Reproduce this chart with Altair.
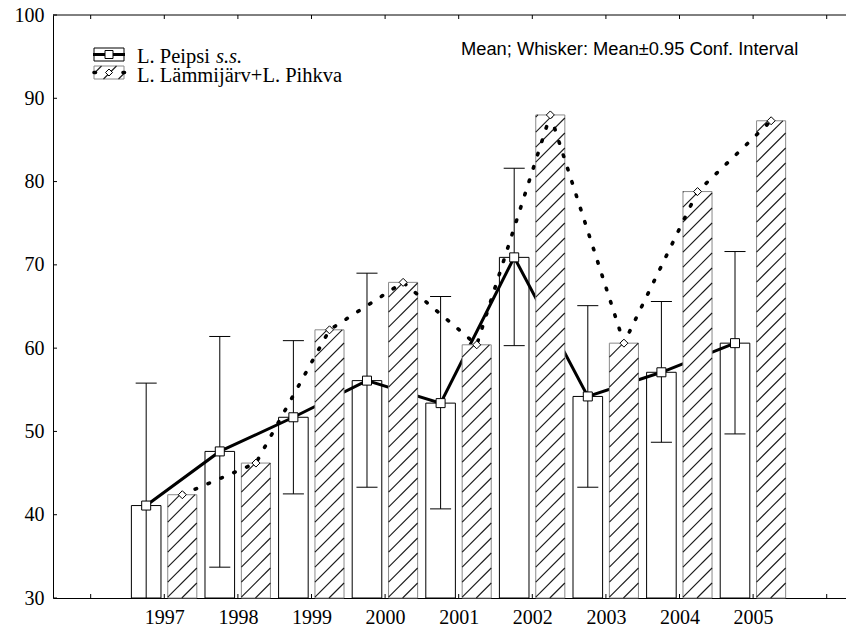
import altair as alt
import pandas as pd

# ---------------- data ----------------
years = [1997, 1998, 1999, 2000, 2001, 2002, 2003, 2004, 2005]
peipsi_mean = [41.1, 47.6, 51.7, 56.1, 53.4, 70.9, 54.2, 57.1, 60.6]
peipsi_hi = [55.8, 61.4, 60.9, 69.0, 66.2, 81.6, 65.1, 65.6, 71.6]
peipsi_lo = [26.4, 33.7, 42.5, 43.3, 40.7, 60.3, 43.3, 48.7, 49.7]
lp_mean = [42.4, 46.2, 62.2, 67.9, 60.4, 88.0, 60.6, 78.8, 87.3]

y_ticks = [30, 40, 50, 60, 70, 80, 90, 100]
x_ticks = [1996, 1997, 1998, 1999, 2000, 2001, 2002, 2003, 2004, 2005, 2006]
legend_text_1 = "L. Peipsi "
legend_text_1b = "s.s."
legend_text_2 = "L. Lämmijärv+L. Pihkva"
note_text = "Mean; Whisker: Mean±0.95 Conf. Interval"

# ---------------- layout / style ----------------
W, H = 793, 583
X_DOMAIN = [1995.488, 2006.262]
Y_DOMAIN = [30, 100]
SERIF = "Liberation Serif"
SANS = "Liberation Sans"
BAR_W = 0.395                      # bar width in years
PX_PER_YEAR = W / (X_DOMAIN[1] - X_DOMAIN[0])
PX_PER_UNIT = H / (Y_DOMAIN[1] - Y_DOMAIN[0])
HATCH_DY = BAR_W * PX_PER_YEAR / PX_PER_UNIT   # 45 degree rise across a bar
HATCH_SP = 15.0 / PX_PER_UNIT                  # vertical spacing of hatch lines
HATCH_COLOR = "#1a1a1a"
OUTLINE_GRAY = "#8a8a8a"

xs = alt.Scale(domain=X_DOMAIN, nice=False, zero=False)
ys = alt.Scale(domain=Y_DOMAIN, nice=False, zero=False)

x_axis = alt.Axis(values=years, format="d", labelFont=SERIF, labelFontSize=20,
                  labelColor="black", ticks=False, domainColor="black",
                  domainWidth=1, grid=False, labelPadding=19, labelBaseline="middle",
                  labelFlush=False, labelOverlap=False, title=None)
y_axis = alt.Axis(values=y_ticks, labelFont=SERIF, labelFontSize=20,
                  labelColor="black", ticks=False, domainColor="black",
                  domainWidth=1, grid=False, labelPadding=9, labelFlush=False,
                  labelOverlap=False, title=None)


def X(f):
    return alt.X(f"{f}:Q", scale=xs, axis=x_axis, title=None)


def Y(f):
    return alt.Y(f"{f}:Q", scale=ys, axis=y_axis, title=None)


# ---------------- data frame ----------------
df = pd.DataFrame({
    "year": years, "peipsi": peipsi_mean, "hi": peipsi_hi,
    "lo": peipsi_lo, "lp": lp_mean,
})

base = alt.Chart(df).transform_calculate(
    pa="datum.year - 0.447", pb="datum.year - 0.045", pc="datum.year - 0.246",
    ca="datum.year - 0.389", cb="datum.year - 0.103",
    la="datum.year + 0.047", lb="datum.year + 0.442", lc="datum.year + 0.245",
)

peipsi_bars = base.mark_rect(fill="white", stroke="black", strokeWidth=1).encode(
    x=X("pa"), x2="pb:Q", y=Y("peipsi"), y2=alt.datum(30))

whiskers = base.mark_rule(color="black", strokeWidth=1, clip=True).encode(
    x=X("pc"), y=Y("lo"), y2="hi:Q")
cap_hi = base.mark_rule(color="black", strokeWidth=1, clip=True).encode(
    x=X("ca"), x2="cb:Q", y=Y("hi"))
cap_lo = base.mark_rule(color="black", strokeWidth=1, clip=True).encode(
    x=X("ca"), x2="cb:Q", y=Y("lo"))

solid_line = base.mark_line(color="black", strokeWidth=3).encode(
    x=X("pc"), y=Y("peipsi"))

hatched_bars = base.mark_rect(fill="white", stroke=OUTLINE_GRAY, strokeWidth=1).encode(
    x=X("la"), x2="lb:Q", y=Y("lp"), y2=alt.datum(30))

hatch_lines = base.transform_calculate(
    k="sequence(0, 45)"
).transform_flatten(["k"]).transform_calculate(
    y0=f"30 - {HATCH_DY:.5f} + datum.k * {HATCH_SP:.5f}"
).transform_calculate(
    y1=f"datum.y0 + {HATCH_DY:.5f}"
).transform_filter(
    "datum.y1 > 30 && datum.y0 < datum.lp"
).transform_calculate(
    hx1=f"datum.y0 < 30 ? datum.la + (30 - datum.y0) / {HATCH_DY:.5f} * (datum.lb - datum.la) : datum.la",
    hy1="max(datum.y0, 30)",
    hx2=f"datum.y1 > datum.lp ? datum.la + (datum.lp - datum.y0) / {HATCH_DY:.5f} * (datum.lb - datum.la) : datum.lb",
    hy2="min(datum.y1, datum.lp)",
).mark_rule(color=HATCH_COLOR, strokeWidth=1.1).encode(
    x=X("hx1"), y=Y("hy1"), x2="hx2:Q", y2="hy2:Q")

dotted_line = base.mark_line(color="black", strokeWidth=3.6, strokeDash=[1.5, 12.5],
                             strokeCap="round").encode(x=X("lc"), y=Y("lp"))

squares = base.mark_point(shape="square", size=81, filled=True, fill="white",
                          stroke="black", strokeWidth=1, opacity=1).encode(
    x=X("pc"), y=Y("peipsi"))
diamonds = base.mark_point(shape="diamond", size=64, filled=True, fill="white",
                           stroke="black", strokeWidth=1, opacity=1).encode(
    x=X("lc"), y=Y("lp"))

# inward ticks and top frame
xt = pd.DataFrame({"t": x_ticks})
yt = pd.DataFrame({"t": y_ticks})
xtick_bottom = alt.Chart(xt).mark_rule(color="black", strokeWidth=1).encode(
    x=X("t"), y=alt.value(H), y2=alt.value(H - 4))
xtick_top = alt.Chart(xt).mark_rule(color="black", strokeWidth=1).encode(
    x=X("t"), y=alt.value(0), y2=alt.value(4))
ytick_left = alt.Chart(yt).mark_rule(color="black", strokeWidth=1).encode(
    y=Y("t"), x=alt.value(0), x2=alt.value(4))

one = pd.DataFrame({"a": [0]})
top_frame = alt.Chart(one).mark_rule(color="black", strokeWidth=1).encode(
    x=alt.value(0), x2=alt.value(W), y=alt.value(0))

# ---------------- legend (glyphs in pixel space) ----------------
BOX_X0, BOX_X1 = 41, 71
BOX1_Y0, BOX1_Y1 = 33, 46
BOX2_Y0, BOX2_Y1 = 51, 64

glyph_rows = []
c = BOX_X0 + BOX2_Y0 + 7.5
while c < BOX_X1 + BOX2_Y1:
    xa = max(BOX_X0, c - BOX2_Y1)
    xb = min(BOX_X1, c - BOX2_Y0)
    if xb > xa:
        glyph_rows.append({"gx1": xa, "gy1": c - xa, "gx2": xb, "gy2": c - xb})
    c += 15
glyph = pd.DataFrame(glyph_rows)

lg_box1 = alt.Chart(one).mark_rect(fill="white", stroke="black", strokeWidth=1).encode(
    x=alt.value(BOX_X0), x2=alt.value(BOX_X1), y=alt.value(BOX1_Y0), y2=alt.value(BOX1_Y1))
lg_line1 = alt.Chart(one).mark_rule(color="black", strokeWidth=3).encode(
    x=alt.value(BOX_X0 - 1), x2=alt.value(BOX_X1 + 1), y=alt.value(39.5))
lg_sq = alt.Chart(one).mark_point(shape="square", size=64, filled=True, fill="white",
                                  stroke="black", strokeWidth=1, opacity=1).encode(
    x=alt.value(56), y=alt.value(39.5))
lg_box2 = alt.Chart(one).mark_rect(fill="white", stroke=OUTLINE_GRAY, strokeWidth=1).encode(
    x=alt.value(BOX_X0), x2=alt.value(BOX_X1), y=alt.value(BOX2_Y0), y2=alt.value(BOX2_Y1))
lg_hatch = alt.Chart(glyph).mark_rule(color=HATCH_COLOR, strokeWidth=1.1).encode(
    x=alt.X("gx1:Q", scale=None, axis=None), x2="gx2:Q",
    y=alt.Y("gy1:Q", scale=None, axis=None), y2="gy2:Q")
lg_line2 = alt.Chart(one).mark_rule(color="black", strokeWidth=3.6, strokeDash=[1.5, 13],
                                    strokeCap="round").encode(
    x=alt.value(BOX_X0), x2=alt.value(BOX_X1 + 1), y=alt.value(57.5))
lg_dia = alt.Chart(one).mark_point(shape="diamond", size=49, filled=True, fill="white",
                                   stroke="black", strokeWidth=1, opacity=1).encode(
    x=alt.value(56), y=alt.value(57.5))
lg_t1 = alt.Chart(one).mark_text(font=SERIF, fontSize=20.5, align="left",
                                 baseline="alphabetic", color="black").encode(
    x=alt.value(84), y=alt.value(47.5), text=alt.value(legend_text_1))
lg_t1b = alt.Chart(one).mark_text(font=SERIF, fontSize=20.5, fontStyle="italic",
                                  align="left", baseline="alphabetic",
                                  color="black").encode(
    x=alt.value(163), y=alt.value(47.5), text=alt.value(legend_text_1b))
lg_t2 = alt.Chart(one).mark_text(font=SERIF, fontSize=20.5, align="left",
                                 baseline="alphabetic", color="black").encode(
    x=alt.value(84), y=alt.value(66.5), text=alt.value(legend_text_2))
note = alt.Chart(one).mark_text(font=SANS, fontSize=18.3, align="left",
                                baseline="alphabetic", color="black").encode(
    x=alt.value(408), y=alt.value(40), text=alt.value(note_text))

chart = alt.layer(
    peipsi_bars, whiskers, cap_hi, cap_lo, solid_line, hatched_bars, hatch_lines,
    dotted_line, squares, diamonds, xtick_bottom, xtick_top, ytick_left, top_frame,
    lg_box1, lg_line1, lg_sq, lg_box2, lg_hatch, lg_line2, lg_dia,
    lg_t1, lg_t1b, lg_t2, note,
).properties(
    width=W, height=H,
    autosize=alt.AutoSizeParams(type="none"),
    padding={"left": 45, "top": 7, "right": 0, "bottom": 28},
    background="white",
).configure_view(
    stroke=None
).configure_axis(
    labelFont=SERIF, labelFontSize=20, labelColor="black"
)

chart.save("out.html", embed_options={"renderer": "svg", "actions": False})
